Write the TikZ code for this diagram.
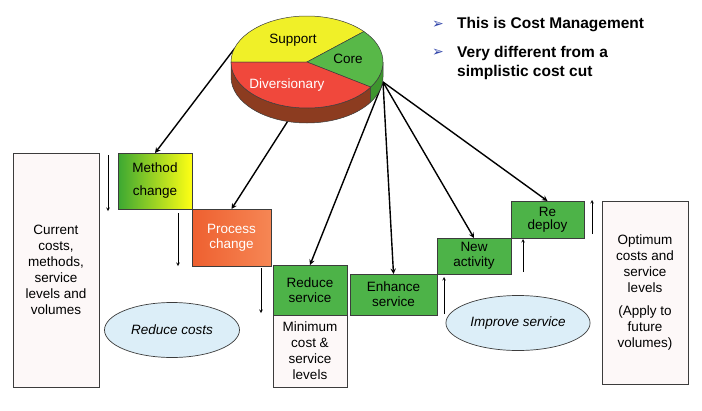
\documentclass[tikz,border=0pt]{standalone}
\usepackage{fontspec}
\setmainfont{Liberation Sans}
\newfontfamily\dingfont{DejaVu Sans}
\usetikzlibrary{positioning,shapes.geometric}

\definecolor{boxgreen}{RGB}{77,179,72}
\definecolor{leafgreen}{RGB}{60,168,50}
\definecolor{brightyellow}{RGB}{255,255,20}
\definecolor{orangeL}{RGB}{238,96,48}
\definecolor{orangeR}{RGB}{246,134,84}
\definecolor{pieyellow}{RGB}{240,240,40}
\definecolor{piered}{RGB}{240,72,60}
\definecolor{piegreen}{RGB}{88,184,72}
\definecolor{piebrown}{RGB}{140,60,32}
\definecolor{sidegreen}{RGB}{62,150,46}
\definecolor{paleblue}{RGB}{220,238,248}
\definecolor{paper}{RGB}{253,248,248}
\definecolor{edgegray}{RGB}{60,60,60}
\definecolor{bulletblue}{RGB}{50,70,170}

\tikzset{
  stage/.style={draw=edgegray, line width=0.7pt, fill=boxgreen, inner sep=0pt,
    outer sep=0pt, align=center, font=\fontsize{13.5}{15}\selectfont},
  sidebox/.style={draw=edgegray, line width=0.7pt, fill=paper, inner sep=0pt,
    outer sep=0pt, align=center, font=\fontsize{13.5}{16}\selectfont},
  aim/.style={ellipse, draw=edgegray, line width=0.7pt, fill=paleblue,
    minimum width=135pt, minimum height=55pt, font=\fontsize{13.5}{15}\selectfont\itshape},
  feed/.style={->, line width=1.4pt},
  flow/.style={->, line width=0.6pt},
  slice/.style={draw=edgegray, line width=0.5pt}
}

\begin{document}
\begin{tikzpicture}[x=1pt, y=-1pt, >=stealth]
\useasboundingbox (0,0) rectangle (702,410);

% Points on the pie where the arrows leave
\coordinate (pieL) at (235,48);
\coordinate (pieB) at (293,113);
\coordinate (hub) at (383,82);

% Stair of stages
\node[stage, left color=leafgreen, right color=brightyellow, minimum width=74pt,
  minimum height=56pt, font=\fontsize{13.5}{23}\selectfont] (method) at (155,181) {Method\\change};
\node[stage, left color=orangeL, right color=orangeR, text=white, minimum width=79pt,
  minimum height=57pt, below right=0pt and 0pt of method] (process) {Process\\change};
\node[stage, minimum width=74pt, minimum height=50pt] (reduce) at (310,290) {Reduce\\service};
\node[sidebox, minimum width=74pt, minimum height=72pt, below=0pt of reduce] (minimum)
  {Minimum\\cost \&\\service\\levels};
\node[stage, minimum width=87pt, minimum height=41pt] (enhance) at (393.5,294.5) {Enhance\\service};
\node[stage, minimum width=74pt, minimum height=36pt, above right=0pt and 0pt of enhance]
  (newact) {New\\activity};
\node[stage, minimum width=73pt, minimum height=37pt, font=\fontsize{13.5}{13}\selectfont,
  above right=0pt and 0pt of newact] (redeploy) {Re\\deploy};

% Side boxes
\node[sidebox, minimum width=86pt, minimum height=234pt] (current) at (56,270)
  {Current\\costs,\\methods,\\service\\levels and\\volumes};
\node[sidebox, minimum width=86pt, minimum height=183pt] (optimum) at (645,292.5)
  {Optimum\\costs and\\service\\levels\\[7pt](Apply to\\future\\volumes)};

% Aims
\node[aim] (cut) at (172,330) {Reduce costs};
\node[aim] (improve) at (518,323) {Improve service};

% Small step arrows
\foreach \x/\a/\b in {108/155/211, 178/213/266, 261/268/313} {
  \draw[flow] (\x,\a) -- (\x,\b);
}
\foreach \x/\a/\b in {444/314/277, 523/272/239, 592/234/200} {
  \draw[flow] (\x,\a) -- (\x,\b);
}

% Arrows from the pie
\draw[feed] (pieL) -- (method.north);
\draw[feed] (pieB) -- (process.north);
\foreach \t in {reduce, enhance, newact, redeploy} {
  \draw[feed] (hub) -- (\t.north);
}

% Pie: side first, then the slices on top
\fill[piebrown, slice] ([shift={(307,62)}]33:76 and 46) arc[start angle=33, end angle=180, x radius=76, y radius=46]
  -- ++(0,15) arc[start angle=180, end angle=33, x radius=76, y radius=46] -- cycle;
\fill[sidegreen, slice] ([shift={(307,62)}]0:76 and 46) arc[start angle=0, end angle=33, x radius=76, y radius=46]
  -- ++(0,15) arc[start angle=33, end angle=0, x radius=76, y radius=46] -- cycle;
\fill[pieyellow, slice] (307,62) -- ([shift={(307,62)}]-180:76 and 46)
  arc[start angle=-180, end angle=-41.5, x radius=76, y radius=46] -- cycle;
\fill[piegreen, slice] (307,62) -- ([shift={(307,62)}]-41.5:76 and 46)
  arc[start angle=-41.5, end angle=33, x radius=76, y radius=46] -- cycle;
\fill[piered, slice] (307,62) -- ([shift={(307,62)}]33:76 and 46)
  arc[start angle=33, end angle=180, x radius=76, y radius=46] -- cycle;

\node[font=\fontsize{13.5}{15}\selectfont] (support) at (293,40) {Support};
\node[font=\fontsize{13.5}{15}\selectfont] (core) at (348,59) {Core};
\node[font=\fontsize{13.5}{15}\selectfont, text=white] (divers) at (287,85) {Diversionary};

% Headline points
\node[text=bulletblue, font=\dingfont\fontsize{14}{14}\selectfont] (b1) at (438,25) {➢};
\node[text=bulletblue, font=\dingfont\fontsize{14}{14}\selectfont] (b2) at (438,53) {➢};
\node[anchor=west, inner sep=0pt, font=\fontsize{15.5}{19}\selectfont\bfseries] (p1) at (457,25)
  {This is Cost Management};
\node[anchor=west, inner sep=0pt, align=left, font=\fontsize{15.5}{19}\selectfont\bfseries] (p2) at (457,62.5)
  {Very different from a\\simplistic cost cut};
\end{tikzpicture}
\end{document}
